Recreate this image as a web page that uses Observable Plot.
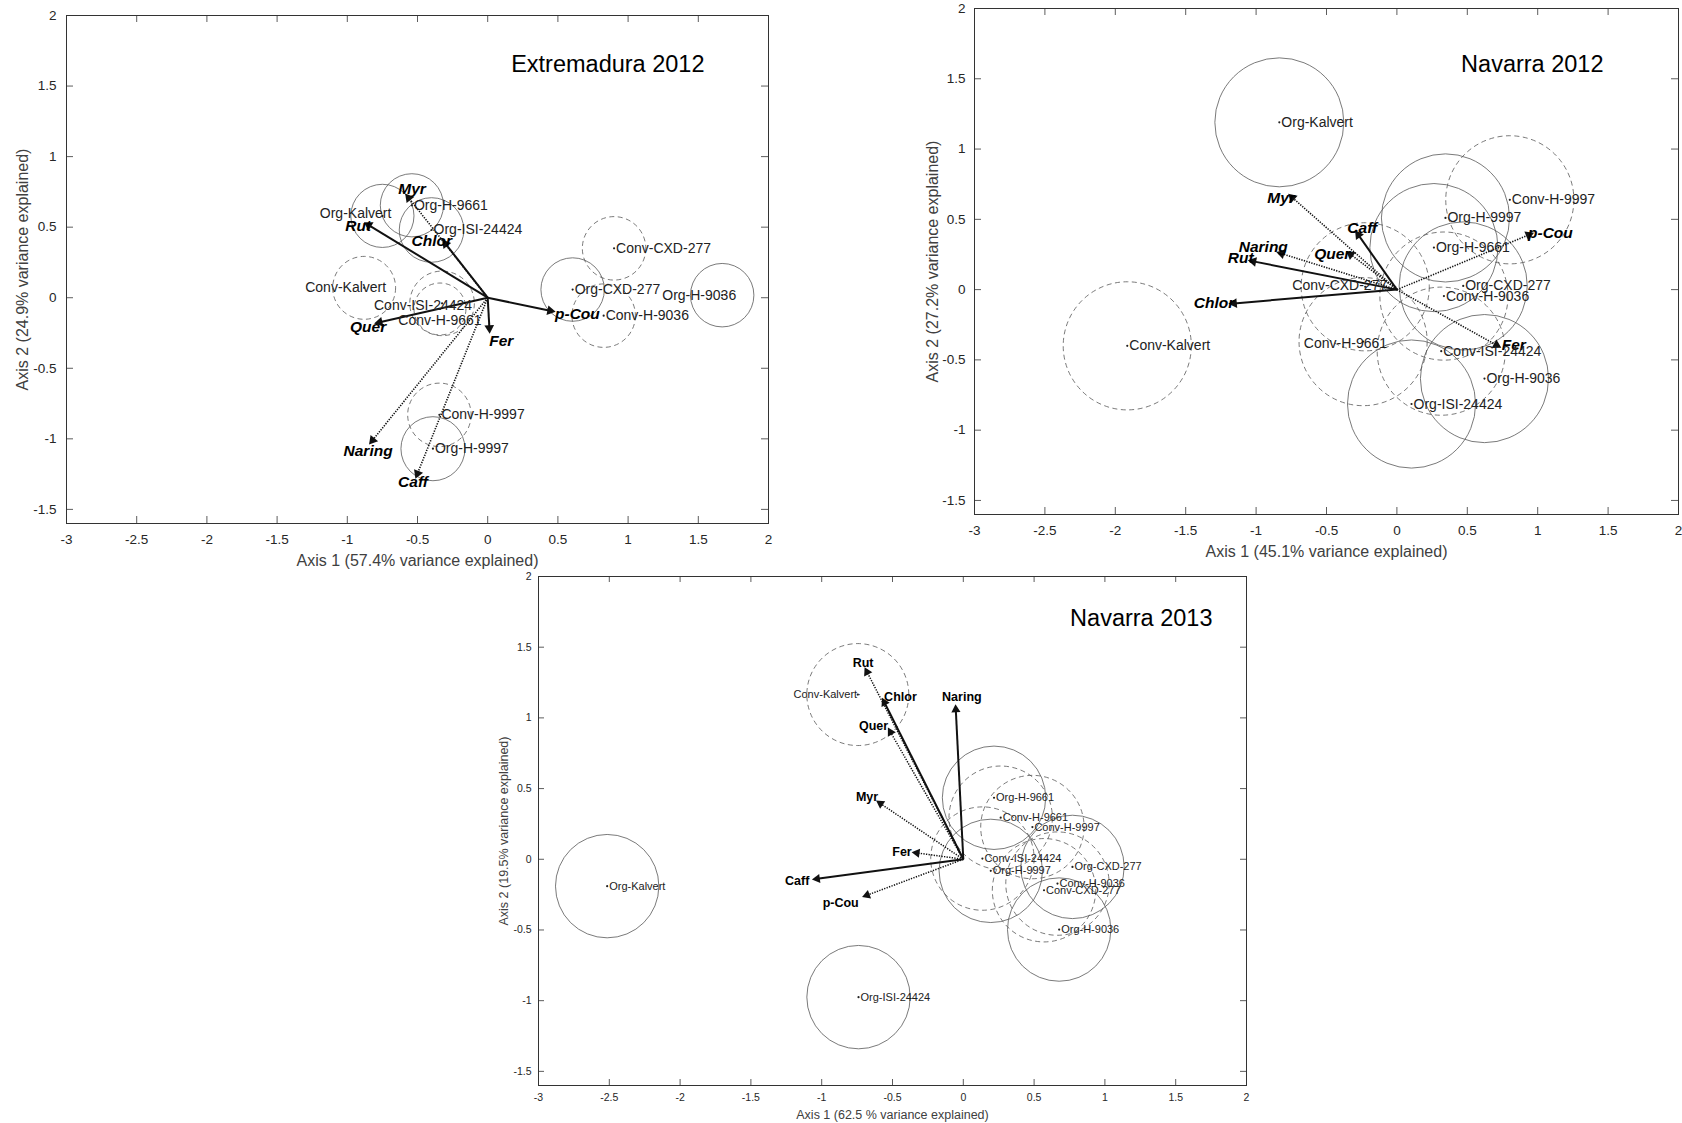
<!DOCTYPE html>
<html><head><meta charset="utf-8">
<script src="https://cdn.jsdelivr.net/npm/d3@7"></script>
<script src="https://cdn.jsdelivr.net/npm/@observablehq/plot@0.6"></script>
<style>
body{margin:0;background:#fff;}
#wrap{position:relative;width:1682px;height:1123px;overflow:hidden;background:#fff;}
.panel{position:absolute;}
</style></head><body><div id="wrap"></div>
<script>
const xTicks = [-3,-2.5,-2,-1.5,-1,-0.5,0,0.5,1,1.5,2];
const yTicks = [-1.5,-1,-0.5,0,0.5,1,1.5,2];

// ---- Extremadura 2012 ----
const ext_names = ["Org-Kalvert","Org-H-9661","Org-ISI-24424","Conv-Kalvert","Conv-ISI-24424","Conv-H-9661","Conv-H-9997","Org-H-9997","Conv-CXD-277","Org-CXD-277","Conv-H-9036","Org-H-9036"];
const ext_x = [-0.75,-0.54,-0.40,-0.88,-0.325,-0.34,-0.344,-0.39,0.90,0.605,0.826,1.67];
const ext_y = [0.58,0.655,0.48,0.07,-0.04,-0.08,-0.83,-1.07,0.35,0.058,-0.127,0.018];
const ext_r = [0.225,0.225,0.23,0.224,0.23,0.185,0.226,0.228,0.226,0.226,0.226,0.226];
const ext_vars = ["Rut","Chlor","Myr","Quer","Fer","p-Cou","Naring","Caff"];
const ext_vx = [-0.848,-0.30,-0.563,-0.77,0.012,0.445,-0.82,-0.50];
const ext_vy = [0.515,0.382,0.708,-0.174,-0.215,-0.092,-1.01,-1.246];
const ext_lx = [-0.923,-0.398,-0.539,-0.852,0.097,0.639,-0.852,-0.532];
const ext_ly = [0.51,0.404,0.77,-0.21,-0.31,-0.118,-1.084,-1.309];
const ext_solid = ["Rut","Chlor","Quer","Fer","p-Cou"];

// ---- Navarra 2012 ----
const n12_names = ["Org-Kalvert","Conv-Kalvert","Conv-H-9997","Org-H-9997","Org-H-9661","Org-CXD-277","Conv-H-9036","Conv-ISI-24424","Org-H-9036","Org-ISI-24424","Conv-H-9661","Conv-CXD-277"];
const n12_x = [-0.835,-1.915,0.802,0.345,0.263,0.471,0.334,0.315,0.622,0.104,-0.24,-0.225];
const n12_y = [1.19,-0.40,0.639,0.51,0.299,0.026,-0.046,-0.438,-0.633,-0.814,-0.37,0.02];
const n12_r = [0.458,0.455,0.455,0.455,0.455,0.455,0.455,0.455,0.455,0.455,0.455,0.455];
const n12_vars = ["Myr","Caff","Naring","Quer","Rut","Chlor","p-Cou","Fer"];
const n12_vx = [-0.743,-0.274,-0.819,-0.329,-1.02,-1.157,0.937,0.707];
const n12_vy = [0.655,0.389,0.256,0.251,0.201,-0.098,0.389,-0.395];
const n12_lx = [-0.823,-0.246,-0.949,-0.459,-1.109,-1.299,1.09,0.83];
const n12_ly = [0.655,0.441,0.306,0.256,0.222,-0.093,0.399,-0.397];
const n12_solid = ["Caff","Rut","Chlor"];

// ---- Navarra 2013 ----
const n13_names = ["Org-Kalvert","Org-ISI-24424","Conv-Kalvert","Org-H-9661","Conv-H-9661","Conv-H-9997","Conv-ISI-24424","Org-H-9997","Org-CXD-277","Conv-H-9036","Conv-CXD-277","Org-H-9036"];
const n13_x = [-2.515,-0.74,-0.745,0.217,0.264,0.488,0.135,0.194,0.771,0.665,0.57,0.677];
const n13_y = [-0.19,-0.975,1.165,0.435,0.294,0.228,0.005,-0.082,-0.054,-0.172,-0.219,-0.497];
const n13_r = [0.365,0.365,0.36,0.365,0.365,0.365,0.365,0.365,0.365,0.365,0.365,0.365];
const n13_vars = ["Rut","Chlor","Naring","Quer","Myr","Fer","Caff","p-Cou"];
const n13_vx = [-0.68,-0.557,-0.053,-0.514,-0.585,-0.328,-1.032,-0.68];
const n13_vy = [1.325,1.109,1.059,0.899,0.394,0.045,-0.138,-0.254];
const n13_lx = [-0.708,-0.444,-0.01,-0.634,-0.68,-0.433,-1.173,-0.866];
const n13_ly = [1.389,1.148,1.148,0.94,0.437,0.053,-0.153,-0.31];
const n13_solid = ["Chlor","Naring","Caff"];

const FONT = "'Liberation Sans', Arial, Helvetica, sans-serif";

function panel(cfg) {
  const {W, H, mL, mT, mR, mB} = cfg;
  const iw = W - mL - mR, ih = H - mT - mB;
  const pts = cfg.names.map((n, i) => ({name: n, x: cfg.px[i], y: cfg.py[i], r: cfg.pr[i], org: n.startsWith("Org")}));
  const arr = cfg.vars.map((n, i) => ({name: n, x: cfg.vx[i], y: cfg.vy[i], lx: cfg.lx[i], ly: cfg.ly[i], solid: cfg.solid.includes(n)}));
  const ex = cfg.labelExceptions || {};
  const normal = pts.filter(d => !ex[d.name]);
  const tick = cfg.tickLen;
  const marks = [
    Plot.dot(pts.filter(d => d.org), {x: "x", y: "y", r: "r", fill: "none", stroke: "#585858", strokeWidth: 0.8}),
    Plot.dot(pts.filter(d => !d.org), {x: "x", y: "y", r: "r", fill: "none", stroke: "#585858", strokeWidth: 0.8, strokeDasharray: "5,3.5"}),
    Plot.link(arr.filter(d => d.solid), {x1: () => 0, y1: () => 0, x2: "x", y2: "y", stroke: "#111", strokeWidth: cfg.solidW}),
    Plot.link(arr.filter(d => !d.solid), {x1: () => 0, y1: () => 0, x2: "x", y2: "y", stroke: "#111", strokeWidth: cfg.dotW, strokeDasharray: "1.3,1.3"}),
    Plot.dot(arr, {x: "x", y: "y", symbol: "triangle", r: cfg.headR, fill: "#111", stroke: "none", rotate: d => Math.atan2(d.x, d.y) * 180 / Math.PI}),
    Plot.text(arr, {x: "lx", y: "ly", text: "name", fontSize: cfg.varFont, fontWeight: "bold", fontStyle: cfg.varItalic ? "italic" : "normal", fill: "#000", textAnchor: "middle", lineAnchor: "middle"}),
    Plot.dot(pts, {x: "x", y: "y", r: 1.1, fill: "#222", stroke: "none"}),
    Plot.text(normal, {x: "x", y: "y", text: "name", fontSize: cfg.ptFont, fill: "#222", textAnchor: "start", lineAnchor: "middle", dx: 2})
  ];
  for (const [name, [anchor, dx, dy]] of Object.entries(ex)) {
    marks.push(Plot.text(pts.filter(d => d.name === name), {x: "x", y: "y", text: d => anchor === "endDot" ? d.name + "\u00b7" : d.name, fontSize: cfg.ptFont, fill: "#222", textAnchor: anchor === "endDot" ? "end" : anchor, lineAnchor: "middle", dx, dy}));
  }
  marks.push(
    Plot.frame({stroke: "#333", strokeWidth: 1}),
    Plot.ruleX(xTicks, {x: d => d, stroke: "#333", strokeWidth: 0.8, insetTop: ih - tick}),
    Plot.ruleX(xTicks, {x: d => d, stroke: "#333", strokeWidth: 0.8, insetBottom: ih - tick}),
    Plot.ruleY(yTicks, {y: d => d, stroke: "#333", strokeWidth: 0.8, insetRight: iw - tick}),
    Plot.ruleY(yTicks, {y: d => d, stroke: "#333", strokeWidth: 0.8, insetLeft: iw - tick}),
    Plot.text(xTicks, {x: d => d, text: d => String(d), frameAnchor: "bottom", dy: cfg.xTickDy, lineAnchor: "middle", fontSize: cfg.tickFont, fill: "#262626"}),
    Plot.text(yTicks, {y: d => d, text: d => String(d), frameAnchor: "left", dx: -cfg.yTickDx, textAnchor: "end", lineAnchor: "middle", fontSize: cfg.tickFont, fill: "#262626"}),
    Plot.text([cfg.xLabel], {frameAnchor: "bottom", dy: cfg.xLabDy, lineAnchor: "middle", fontSize: cfg.labFont, fill: "#404040"}),
    Plot.text([cfg.yLabel], {frameAnchor: "left", dx: -cfg.yLabDx, rotate: -90, lineAnchor: "middle", textAnchor: "middle", fontSize: cfg.labFont, fill: "#404040"}),
    Plot.text([cfg.title], {frameAnchor: "top-right", dx: -cfg.titleDx, dy: cfg.titleDy, textAnchor: "end", lineAnchor: "middle", fontSize: cfg.titleFont, fill: "#000"})
  );
  const svg = Plot.plot({
    width: W, height: H, marginLeft: mL, marginTop: mT, marginRight: mR, marginBottom: mB,
    x: {domain: [-3, 2], axis: null},
    y: {domain: [-1.6, 2], axis: null},
    r: {type: "linear", domain: [0, 1], range: [0, iw / 5]},
    style: {background: "transparent", fontFamily: FONT, overflow: "visible"},
    marks
  });
  const div = document.createElement("div");
  div.className = "panel";
  div.style.left = cfg.left + "px";
  div.style.top = cfg.top + "px";
  div.appendChild(svg);
  document.getElementById("wrap").appendChild(div);
}

panel({
  left: 0, top: 0, W: 778, H: 568, mL: 66, mT: 15, mR: 10, mB: 45,
  names: ext_names, px: ext_x, py: ext_y, pr: ext_r,
  vars: ext_vars, vx: ext_vx, vy: ext_vy, lx: ext_lx, ly: ext_ly, solid: ext_solid,
  labelExceptions: {"Org-Kalvert": ["end", 9, -2], "Conv-Kalvert": ["end", 22, 0], "Conv-ISI-24424": ["end", 30, 2], "Conv-H-9661": ["middle", 0, 12], "Org-H-9036": ["end", 14, 0]},
  tickLen: 7, solidW: 2, dotW: 1.6, headR: 3.6, varFont: 15.5, varItalic: true, ptFont: 14,
  tickFont: 13.5, xTickDy: 16, yTickDx: 10, labFont: 16, xLabDy: 37, yLabDx: 44,
  xLabel: "Axis 1 (57.4% variance explained)", yLabel: "Axis 2 (24.9% variance explained)",
  title: "Extremadura 2012", titleDx: 64, titleDy: 49, titleFont: 23.5
});

panel({
  left: 900, top: 0, W: 782, H: 559, mL: 74, mT: 8, mR: 4, mB: 45,
  names: n12_names, px: n12_x, py: n12_y, pr: n12_r,
  vars: n12_vars, vx: n12_vx, vy: n12_vy, lx: n12_lx, ly: n12_ly, solid: n12_solid,
  labelExceptions: {"Conv-H-9661": ["end", 24, 2], "Conv-CXD-277": ["end", 22, -1]},
  tickLen: 7, solidW: 2, dotW: 1.6, headR: 3.6, varFont: 15.5, varItalic: true, ptFont: 14,
  tickFont: 13.5, xTickDy: 16, yTickDx: 9, labFont: 16, xLabDy: 37, yLabDx: 42,
  xLabel: "Axis 1 (45.1% variance explained)", yLabel: "Axis 2 (27.2% variance explained)",
  title: "Navarra 2012", titleDx: 75, titleDy: 56, titleFont: 23.5
});

panel({
  left: 480, top: 560, W: 776, H: 563, mL: 58, mT: 16, mR: 10, mB: 38,
  names: n13_names, px: n13_x, py: n13_y, pr: n13_r,
  vars: n13_vars, vx: n13_vx, vy: n13_vy, lx: n13_lx, ly: n13_ly, solid: n13_solid,
  labelExceptions: {"Conv-Kalvert": ["endDot", 3, 0]},
  tickLen: 6, solidW: 2, dotW: 1.5, headR: 3.4, varFont: 12.5, varItalic: false, ptFont: 11,
  tickFont: 10.5, xTickDy: 12.5, yTickDx: 7, labFont: 12.5, xLabDy: 29.5, yLabDx: 35,
  xLabel: "Axis 1 (62.5 % variance explained)", yLabel: "Axis 2 (19.5% variance explained)",
  title: "Navarra 2013", titleDx: 34, titleDy: 42, titleFont: 23.5
});
</script></body></html>
